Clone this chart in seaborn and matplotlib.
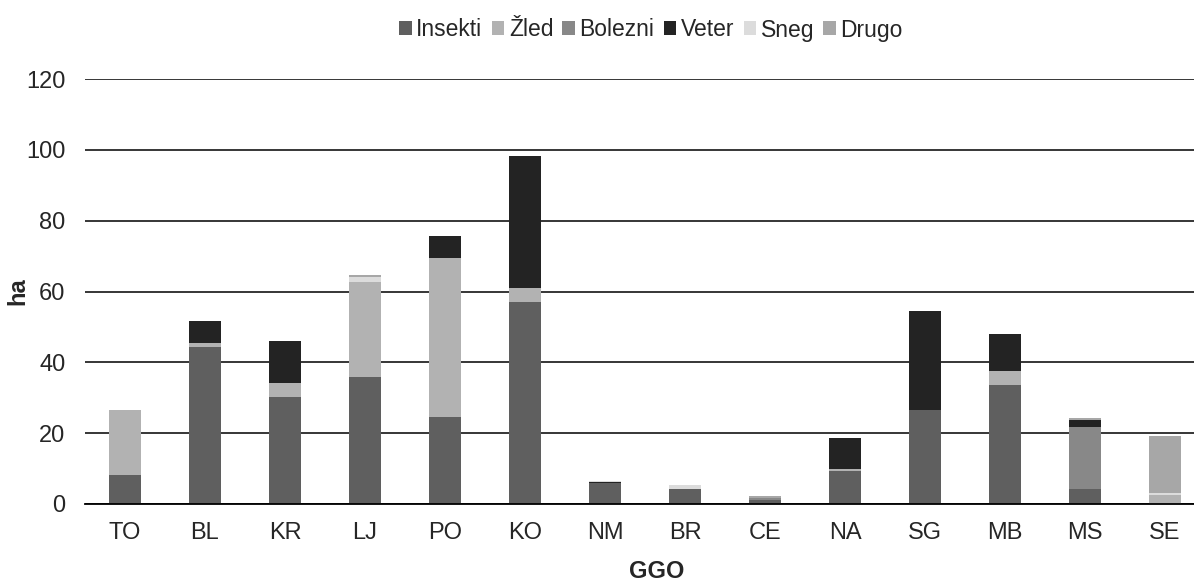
import numpy as np
import pandas as pd
import matplotlib
matplotlib.use('Agg')
import matplotlib.pyplot as plt
from matplotlib.patches import Patch
from matplotlib.ticker import MultipleLocator, FixedLocator
import seaborn as sns

sns.set_style('white')
plt.rcParams['font.family'] = ['Liberation Sans', 'DejaVu Sans']

# podatki (ha) po GGO
ggo = ['TO', 'BL', 'KR', 'LJ', 'PO', 'KO', 'NM', 'BR', 'CE', 'NA', 'SG', 'MB', 'MS', 'SE']
insekti = [8.2, 44.4, 30.3, 35.9, 24.6, 56.9, 5.9, 4.2, 1.1, 9.3, 26.6, 33.7, 4.2, 0.0]
zled    = [18.4, 1.1, 3.9, 26.9, 45.0, 4.2, 0.0, 0.0, 0.0, 0.6, 0.0, 3.9, 0.0, 2.6]
bolezni = [0.0, 0.0, 0.0, 0.0, 0.0, 0.0, 0.0, 0.0, 0.6, 0.0, 0.0, 0.0, 17.6, 0.0]
veter   = [0.0, 6.3, 11.9, 0.0, 6.2, 37.3, 0.3, 0.0, 0.0, 8.7, 28.0, 10.5, 2.0, 0.0]
sneg    = [0.0, 0.0, 0.0, 1.4, 0.0, 0.0, 0.2, 1.3, 0.0, 0.0, 0.0, 0.0, 0.0, 0.4]
drugo   = [0.0, 0.0, 0.0, 0.6, 0.0, 0.0, 0.0, 0.0, 0.6, 0.0, 0.0, 0.0, 0.4, 16.3]

vzroki = ['Insekti', 'Žled', 'Bolezni', 'Veter', 'Sneg', 'Drugo']
barve = ['#5f5f5f', '#b2b2b2', '#888888', '#232323', '#dcdcdc', '#a7a7a7']

df = pd.DataFrame({'GGO': ggo, 'Insekti': insekti, 'Žled': zled, 'Bolezni': bolezni,
                   'Veter': veter, 'Sneg': sneg, 'Drugo': drugo})
cum = df[vzroki].cumsum(axis=1)

fig = plt.figure(figsize=(11.94, 5.81), dpi=100)
ax = fig.add_axes([85/1194, 77/581, 1120/1194, 425/581])

# zloženi stolpci: najprej skupna vsota, nato vse nižje plasti čez
for v, c in zip(vzroki[::-1], barve[::-1]):
    sns.barplot(x=df['GGO'], y=cum[v], color=c, width=0.4, ax=ax,
                edgecolor='none', linewidth=0, saturation=1)

ax.set_ylim(0, 120)
ax.set_xlim(-0.5, 13.5)
ax.yaxis.set_major_locator(MultipleLocator(20))
ax.grid(axis='y', color='black', linewidth=1.1)
ax.set_axisbelow(True)

for s in ['top', 'right', 'left']:
    ax.spines[s].set_visible(False)
ax.spines['bottom'].set_color('black')
ax.spines['bottom'].set_linewidth(1.3)

ax.xaxis.set_minor_locator(FixedLocator(np.arange(-0.5, 14, 1)))
ax.tick_params(axis='x', which='major', length=0, labelsize=17, pad=13)
ax.tick_params(axis='x', which='minor', length=7, width=1.2, color='#777777', direction='out')
ax.tick_params(axis='y', length=0, labelsize=17, pad=14)

ax.set_xlabel('GGO', fontsize=17, fontweight='bold')
ax.xaxis.set_label_coords(0.51, -0.132)
ax.set_ylabel('ha', fontsize=17, fontweight='bold')
ax.yaxis.set_label_coords(-0.05, 0.5)

handles = [Patch(facecolor=c, edgecolor='none') for c in barve]
fig.legend(handles, vzroki, loc='center', bbox_to_anchor=(651/1194, 1 - 30/581),
           ncol=6, frameon=False, fontsize=16.5, handlelength=0.55, handleheight=0.55,
           handletextpad=0.2, columnspacing=0.4)

fig.savefig('out.png', dpi=100)
